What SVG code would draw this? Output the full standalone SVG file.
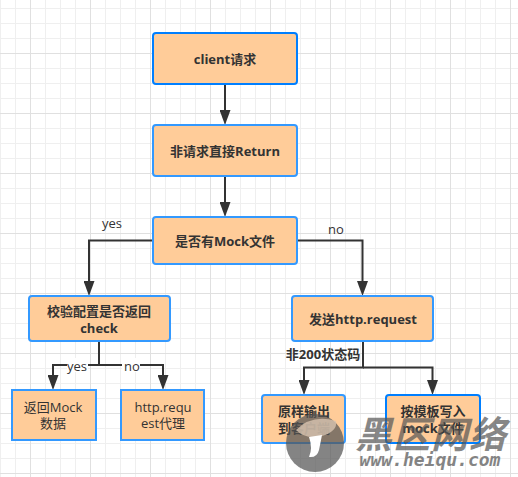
<svg xmlns="http://www.w3.org/2000/svg" width="518" height="477" viewBox="0 0 518 477">
<defs>
<pattern id="grid" width="60" height="60" patternUnits="userSpaceOnUse" patternTransform="translate(30 -7)">
<path d="M15.5 0V60M30.5 0V60M45.5 0V60M0 15.5H60M0 30.5H60M0 45.5H60" fill="none" stroke="#efefef" stroke-width="1"/>
<path d="M0.5 0V60M0 0.5H60" fill="none" stroke="#e0e0e0" stroke-width="1"/>
</pattern>
<marker id="arrow" markerUnits="userSpaceOnUse" markerWidth="15" markerHeight="11" refX="11" refY="5.500" orient="auto" viewBox="0 0 15 11">
<path d="M0 0L15 5.500L0 11Z" fill="#333"/>
</marker>
</defs>
<style>
text{font-family:"Open Sans","Noto Sans CJK SC",sans-serif;font-size:13px;fill:#333;text-anchor:middle}
.b{font-weight:700}
.box{fill:#ffcc99;stroke:#3399ff;stroke-width:2}
.c{fill:none;stroke:#333;stroke-width:2}
.lb{fill:#fff;stroke:none}
</style>
<rect width="518" height="477" fill="#fff"/>
<rect width="518" height="477" fill="url(#grid)"/>
<g id="connectors">
<path class="c" d="M225 84V121" marker-end="url(#arrow)"/>
<path class="c" d="M225 176V213" marker-end="url(#arrow)"/>
<path class="c" d="M153 240.500H89V292" marker-end="url(#arrow)"/>
<path class="c" d="M297 240.500H362.500V292" marker-end="url(#arrow)"/>
<path class="c" d="M99 341V365H53V386" marker-end="url(#arrow)"/>
<path class="c" d="M99 365H163V386" marker-end="url(#arrow)"/>
<path class="c" d="M363 341V367.500H304V391" marker-end="url(#arrow)"/>
<path class="c" d="M363 367.500H432.500V391" marker-end="url(#arrow)"/>
<rect class="lb" x="67" y="358" width="21" height="14"/>
<rect class="lb" x="122" y="358" width="18" height="14"/>
<text x="112" y="228">yes</text>
<text x="336" y="234">no</text>
<text x="77" y="371">yes</text>
<text x="132" y="371">no</text>
<text class="b" x="323" y="359">非200状态码</text>
</g>
<g id="n1"><rect class="box" style="stroke:#007fff" x="153" y="33" width="144" height="51" rx="3"/><text class="b" x="225" y="64">client请求</text></g>
<g id="n2"><rect class="box" x="153" y="125" width="144" height="51" rx="3"/><text class="b" x="225" y="156">非请求直接Return</text></g>
<g id="n3"><rect class="box" x="153" y="217" width="144" height="47" rx="3"/><text class="b" x="225" y="246">是否有Mock文件</text></g>
<g id="n4"><rect class="box" x="29" y="296" width="141" height="45" rx="3"/><text class="b" x="99" y="316">校验配置是否返回</text><text class="b" x="99" y="333">check</text></g>
<g id="n5"><rect class="box" x="12" y="390" width="84" height="50"/><text x="53" y="412">返回Mock</text><text x="53" y="428">数据</text></g>
<g id="n6"><rect class="box" x="121" y="390" width="83" height="50"/><text x="163" y="412">http.requ</text><text x="163" y="428">est代理</text></g>
<g id="n7"><rect class="box" x="292" y="296" width="141" height="45" rx="3"/><text class="b" x="363" y="324">发送http.request</text></g>
<g id="n8"><rect class="box" x="262" y="395" width="83" height="48" rx="3"/><text class="b" x="304" y="416">原样输出</text><text class="b" x="304" y="433">到客户端</text></g>
<g id="n9"><rect class="box" style="stroke:#007fff" x="386" y="395" width="94" height="48" rx="3"/><text class="b" x="433" y="416">按模板写入</text><text class="b" x="433" y="433">mock文件</text></g>
<g id="watermark">
<circle cx="315" cy="443" r="29" fill="#555" opacity=".72"/>
<path d="M296 430Q312 414 336 421Q338 431 322 436Q306 440 296 430Z" fill="#d8c4b0" opacity=".8"/>
<path d="M309 437L322 435L319 450Q317 458 309 457Q313 448 309 437Z" fill="#fff"/>
<text x="431" y="448" style="font-family:'Noto Sans CJK SC',sans-serif;font-size:37px;font-weight:700;font-style:italic;fill:#555;opacity:.7;letter-spacing:1px">黑区网络</text>
<text x="430" y="466" style="font-family:'DejaVu Sans Mono',monospace;font-size:18px;font-weight:700;font-style:italic;fill:#666;opacity:.8">www.heiqu.com</text>
</g>
</svg>
